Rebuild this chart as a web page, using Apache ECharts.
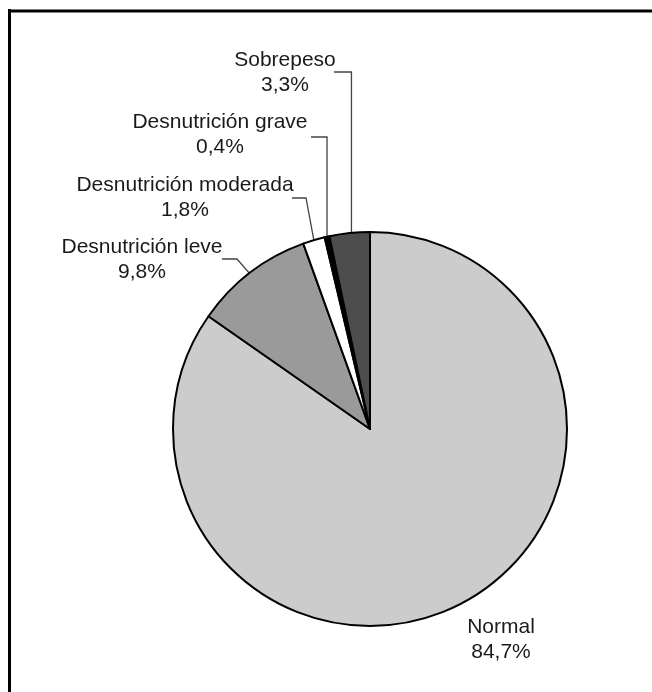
<!DOCTYPE html>
<html>
<head>
<meta charset="utf-8">
<script src="https://cdn.jsdelivr.net/npm/echarts@6/dist/echarts.min.js"></script>
<style>
html,body{margin:0;padding:0;background:#fff;}
#chart{width:652px;height:692px;}
</style>
</head>
<body>
<div id="chart"></div>
<script>
var categories = ['Normal', 'Desnutrición leve', 'Desnutrición moderada', 'Desnutrición grave', 'Sobrepeso'];
var values = [84.7, 9.8, 1.8, 0.4, 3.3];
var colors = ['#cccccc', '#9a9a9a', '#ffffff', '#000000', '#4d4d4d'];

// label layout (style only): label block centre, tick start x, line y, anchor radial fraction
var labelCenters = [[501, 639.5], [142, 259.5], [185, 197.5], [220, 134.5], [285, 72.5]];
var tickStartX = [null, 222, 292, 311, 334];
var tickY = [null, 259, 198, 137, 72];
var bendX = [null, 237, 306, null, null];
var anchorFrac = [null, 0.91, 1.0, 1.0, 0.91];

var CX = 370, CY = 429, R = 197;

var total = values.reduce(function (a, b) { return a + b; }, 0);
function midAngle(i) {
  var before = 0;
  for (var k = 0; k < i; k++) before += values[k];
  return (before + values[i] / 2) / total * Math.PI * 2;
}

var chart = echarts.init(document.getElementById('chart'), null, { renderer: 'canvas' });
var data = categories.map(function (c, i) {
  return {
    name: c,
    value: values[i],
    itemStyle: { color: colors[i] },
    labelLine: { show: i !== 0 }
  };
});

chart.setOption({
  animation: false,
  backgroundColor: '#ffffff',
  graphic: [
    { type: 'line', shape: { x1: 9.5, y1: 9, x2: 9.5, y2: 692 }, style: { stroke: '#000', lineWidth: 3 } },
    { type: 'line', shape: { x1: 8, y1: 11, x2: 652, y2: 11 }, style: { stroke: '#000', lineWidth: 3 } }
  ],
  series: [{
    type: 'pie',
    center: [CX, CY],
    radius: [0, R],
    startAngle: 90,
    clockwise: true,
    avoidLabelOverlap: false,
    data: data,
    itemStyle: { borderColor: '#000', borderWidth: 2 },
    emphasis: { disabled: true },
    label: {
      show: true,
      position: 'outside',
      fontFamily: 'Liberation Sans, Arial, sans-serif',
      fontSize: 21,
      lineHeight: 25,
      color: '#1a1a1a',
      align: 'center',
      formatter: function (p) {
        return p.name + '\n' + p.value.toFixed(1).replace('.', ',') + '%';
      }
    },
    labelLine: {
      show: true,
      lineStyle: { color: '#444', width: 1.3 }
    },
    labelLayout: function (params) {
      var i = params.dataIndex;
      var out = {
        x: labelCenters[i][0],
        y: labelCenters[i][1],
        align: 'center',
        verticalAlign: 'middle'
      };
      if (i !== 0) {
        var a = midAngle(i);
        var r = R * anchorFrac[i];
        var ax = CX + r * Math.sin(a);
        var ay = CY - r * Math.cos(a);
        var bx = bendX[i] == null ? ax : bendX[i];
        out.labelLinePoints = [[ax, ay], [bx, tickY[i]], [tickStartX[i], tickY[i]]];
      }
      return out;
    }
  }]
});
</script>
</body>
</html>
